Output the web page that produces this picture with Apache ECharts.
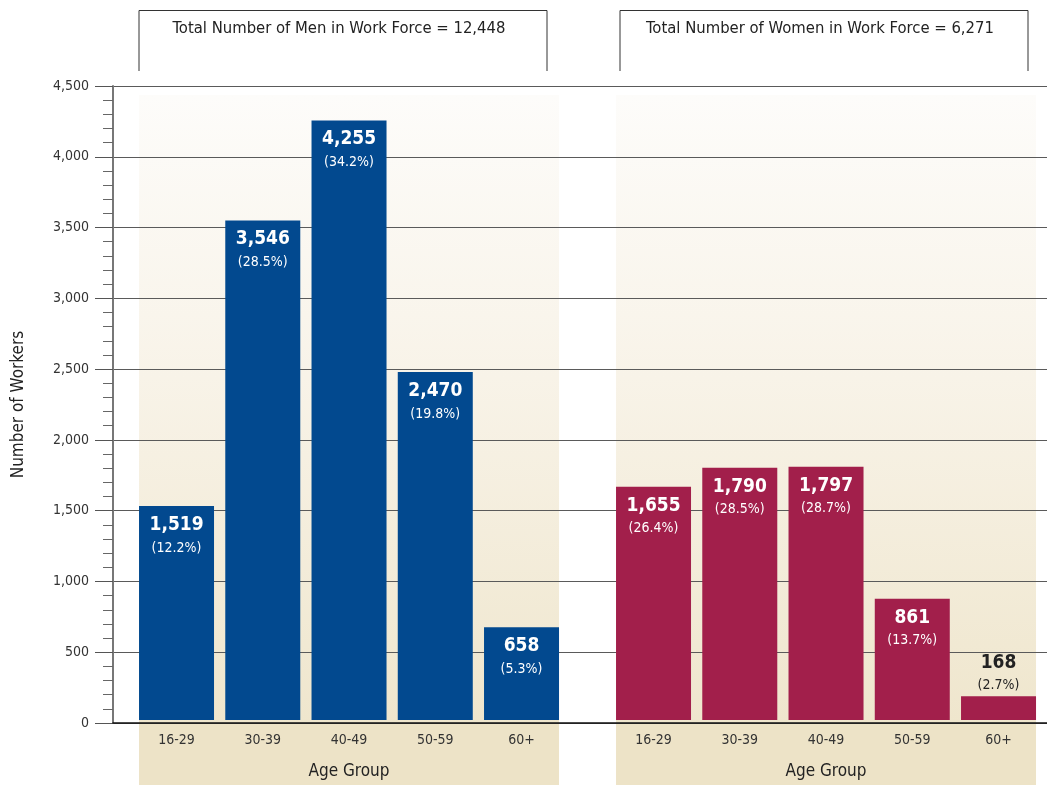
<!DOCTYPE html>
<html>
<head>
<meta charset="utf-8">
<title>Work Force by Age Group</title>
<script src="https://cdn.jsdelivr.net/npm/echarts@6/dist/echarts.min.js"></script>
<style>
  html, body { margin: 0; padding: 0; background: #ffffff; }
  #chart { width: 1047px; height: 785px; }
</style>
</head>
<body>
<div id="chart"></div>
<script>
// ---- data ----
const ageGroups = ['16-29', '30-39', '40-49', '50-59', '60+'];
const menWorkers = [1519, 3546, 4255, 2470, 658];
const womenWorkers = [1655, 1790, 1797, 861, 168];
const menShares = ['12.2%', '28.5%', '34.2%', '19.8%', '5.3%'];
const womenShares = ['26.4%', '28.5%', '28.7%', '13.7%', '2.7%'];
const menTotal = 12448;
const womenTotal = 6271;
const yMin = 0;
const yMax = 4500;
const yStep = 500;

// ---- layout ----
const FONT = "'DejaVu Sans Condensed', 'Liberation Sans Narrow', sans-serif";
const W = 1047, H = 785;
const PLOT_TOP = 86;
const PLOT_BOTTOM = 62;           // distance from the zero line to the bottom edge
const AXIS_LEFT = 113;
const BAND = 86.25;               // width of one age-group slot
const BAR_W = 75;
const MEN_LEFT = 133.4;
const WOMEN_LEFT = 610.4;
const PANEL_TOP = 95;
const BLUE = '#02498f';
const CRIMSON = '#a21f4b';
const BEIGE = '#ede3c7';

const fmt = n => n.toLocaleString('en-US');

function barData(values, shares) {
  return values.map((v, i) => {
    const item = { value: v, share: shares[i] };
    if (v < 400) {
      // too short to hold its label: put it above the bar in dark ink
      item.label = {
        position: 'top',
        distance: 0,
        rich: {
          v: { fontFamily: FONT, fontSize: 19, fontWeight: 'bold', lineHeight: 22, color: '#222' },
          p: { fontFamily: FONT, fontSize: 14, lineHeight: 22, color: '#222' }
        }
      };
    }
    return item;
  });
}

function barSeries(values, shares, color, axisIndex) {
  return {
    type: 'bar',
    xAxisIndex: axisIndex,
    yAxisIndex: axisIndex,
    barWidth: BAR_W,
    z: 3,
    itemStyle: { color: color },
    data: barData(values, shares),
    label: {
      show: true,
      position: 'insideTop',
      distance: 7,
      formatter: p => '{v|' + fmt(p.value) + '}\n{p|(' + p.data.share + ')}',
      rich: {
        v: { fontFamily: FONT, fontSize: 19, fontWeight: 'bold', lineHeight: 24, color: '#ffffff' },
        p: { fontFamily: FONT, fontSize: 14, lineHeight: 22, color: '#ffffff' }
      }
    }
  };
}

// background panel behind each group of bars, plus the title bracket above it
function groupDecor(left, total, who, boxLeft) {
  const pLeft = left + (BAND - BAR_W) / 2;
  const pWidth = BAND * ageGroups.length - (BAND - BAR_W);
  const plotBottom = H - PLOT_BOTTOM;
  const boxW = 408;
  return [
    {
      type: 'rect', z: -10, silent: true,
      shape: { x: pLeft, y: PANEL_TOP, width: pWidth, height: plotBottom - PANEL_TOP },
      style: {
        fill: new echarts.graphic.LinearGradient(0, 0, 0, 1, [
          { offset: 0, color: '#fdfcfa' },
          { offset: 0.45, color: '#f8f3e8' },
          { offset: 1, color: '#efe6cd' }
        ])
      }
    },
    {
      type: 'rect', z: -10, silent: true,
      shape: { x: pLeft, y: plotBottom, width: pWidth, height: PLOT_BOTTOM },
      style: { fill: BEIGE }
    },
    {
      type: 'polyline', z: 5, silent: true,
      shape: { points: [[boxLeft, 71], [boxLeft, 10.5], [boxLeft + boxW, 10.5], [boxLeft + boxW, 71]] },
      style: { stroke: '#333', lineWidth: 1, fill: null }
    },
    {
      type: 'text', z: 5, silent: true,
      x: boxLeft + boxW / 2 - 4, y: 29,
      style: {
        text: 'Total Number of ' + who + ' in Work Force = ' + fmt(total),
        fontFamily: FONT, fontSize: 16.5, fill: '#222',
        align: 'center', verticalAlign: 'middle'
      }
    }
  ];
}

const hiddenY = i => ({
  type: 'value', gridIndex: i, min: yMin, max: yMax, interval: yStep, show: false
});

const groupX = i => ({
  type: 'category', gridIndex: i, data: ageGroups,
  axisLine: { show: false }, axisTick: { show: false }, splitLine: { show: false },
  axisLabel: { margin: 13, fontFamily: FONT, fontSize: 14, color: '#333' },
  name: 'Age Group', nameLocation: 'middle', nameGap: 43,
  nameTextStyle: { fontFamily: FONT, fontSize: 17, color: '#222' }
});

const chart = echarts.init(document.getElementById('chart'), null, { renderer: 'canvas' });
chart.setOption({
  animation: false,
  backgroundColor: '#ffffff',
  grid: [
    { left: AXIS_LEFT, right: 0, top: PLOT_TOP, bottom: PLOT_BOTTOM },
    { left: MEN_LEFT, width: BAND * ageGroups.length, top: PLOT_TOP, bottom: PLOT_BOTTOM },
    { left: WOMEN_LEFT, width: BAND * ageGroups.length, top: PLOT_TOP, bottom: PLOT_BOTTOM }
  ],
  xAxis: [
    {
      type: 'value', gridIndex: 0, min: 0, max: 1, z: 4,
      axisLine: { show: true, lineStyle: { color: '#111', width: 1.5 } },
      axisTick: { show: false }, axisLabel: { show: false }, splitLine: { show: false }
    },
    groupX(1),
    groupX(2)
  ],
  yAxis: [
    {
      type: 'value', gridIndex: 0, min: yMin, max: yMax, interval: yStep, z: 1,
      name: 'Number of Workers', nameLocation: 'middle', nameGap: 86, nameRotate: 90,
      nameTextStyle: { fontFamily: FONT, fontSize: 17, color: '#222' },
      axisLine: { show: true, lineStyle: { color: '#777', width: 2 } },
      axisTick: { show: true, length: 18, lineStyle: { color: '#555', width: 1 } },
      minorTick: { show: true, splitNumber: 5, length: 10, lineStyle: { color: '#666', width: 1 } },
      axisLabel: {
        margin: 24, fontFamily: FONT, fontSize: 14, color: '#333',
        formatter: v => fmt(v)
      },
      splitLine: { show: true, lineStyle: { color: '#5a5a5a', width: 1 } }
    },
    hiddenY(1),
    hiddenY(2)
  ],
  series: [
    barSeries(menWorkers, menShares, BLUE, 1),
    barSeries(womenWorkers, womenShares, CRIMSON, 2)
  ],
  graphic: [
    ...groupDecor(MEN_LEFT, menTotal, 'Men', 139),
    ...groupDecor(WOMEN_LEFT, womenTotal, 'Women', 620)
  ]
});
</script>
</body>
</html>
